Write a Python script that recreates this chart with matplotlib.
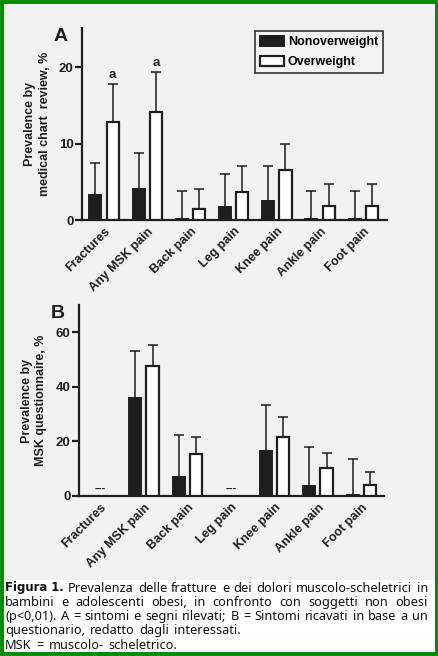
import numpy as np
import matplotlib.pyplot as plt
from matplotlib.patches import Rectangle

axfont = 'Liberation Sans'
plt.rcParams['font.family'] = [axfont, 'DejaVu Sans']

categories = ['Fractures', 'Any MSK pain', 'Back pain', 'Leg pain',
              'Knee pain', 'Ankle pain', 'Foot pain']

# panel A: medical chart review
a_non = [3.3, 4.0, 0.1, 1.7, 2.5, 0.1, 0.1]
a_non_err = [4.2, 4.8, 3.7, 4.3, 4.6, 3.7, 3.7]
a_over = [12.8, 14.1, 1.4, 3.6, 6.6, 1.8, 1.8]
a_over_err = [5.0, 5.2, 2.6, 3.4, 3.3, 2.9, 2.9]
a_sig = ['a', 'a', '', '', '', '', '']

# panel B: MSK questionnaire (nan = not asked)
b_non = [np.nan, 35.8, 6.8, np.nan, 16.6, 3.7, 0.2]
b_non_err = [np.nan, 17.4, 15.4, np.nan, 16.7, 14.4, 13.5]
b_over = [np.nan, 47.7, 15.3, np.nan, 21.7, 10.1, 4.1]
b_over_err = [np.nan, 7.6, 6.4, np.nan, 7.1, 5.8, 4.6]

W, H = 439, 656
fig = plt.figure(figsize=(W / 100, H / 100), dpi=100)
fig.patch.set_facecolor('#f2f2f2')

ink = '#1e1e1e'
x = np.arange(len(categories))
bw = 0.28
off = 0.2


def panel(rect, non, non_err, over, over_err, ylim, yticks, ylabel, letter):
    ax = fig.add_axes(rect)
    ax.set_facecolor('none')
    non = np.array(non, float)
    over = np.array(over, float)
    ok = ~np.isnan(non)
    ax.bar(x[ok] - off, non[ok], bw, color=ink, edgecolor=ink, lw=1.4, zorder=3)
    ax.bar(x[ok] + off, over[ok], bw, color='white', edgecolor=ink, lw=1.6, zorder=3)
    ax.errorbar(x[ok] - off, non[ok],
                yerr=[np.zeros(ok.sum()), np.array(non_err, float)[ok]],
                fmt='none', ecolor=ink, elinewidth=1.1, capsize=3.5, capthick=1.1, zorder=2)
    ax.errorbar(x[ok] + off, over[ok],
                yerr=[np.zeros(ok.sum()), np.array(over_err, float)[ok]],
                fmt='none', ecolor=ink, elinewidth=1.1, capsize=3.5, capthick=1.1, zorder=2)
    for sp in ['top', 'right']:
        ax.spines[sp].set_visible(False)
    for sp in ['left', 'bottom']:
        ax.spines[sp].set_linewidth(1.6)
        ax.spines[sp].set_color(ink)
    ax.set_ylim(*ylim)
    ax.set_yticks(yticks)
    ax.set_yticklabels([str(v) for v in yticks], fontfamily=axfont,
                       fontweight='bold', fontsize=9.5, color=ink)
    ax.set_xticks(x)
    ax.set_xticklabels(categories, rotation=45, ha='right', va='top',
                       rotation_mode='anchor', fontsize=9, fontweight='bold',
                       fontfamily=axfont, color=ink)
    ax.tick_params(axis='x', length=0, pad=4)
    ax.tick_params(axis='y', direction='out', length=5, width=1.6, color=ink, pad=1)
    ax.set_ylabel(ylabel, fontsize=9, fontweight='bold', fontfamily=axfont,
                  color=ink, labelpad=6, linespacing=1.25)
    ax.text(-0.07, 1.0, letter, transform=ax.transAxes, fontsize=14,
            fontweight='bold', fontfamily=axfont, color=ink, ha='center', va='top')
    return ax, ok


axA, okA = panel([82 / W, 1 - 220 / H, 305 / W, 192 / H],
                 a_non, a_non_err, a_over, a_over_err, (0, 25.1), [0, 10, 20],
                 'Prevalence by\nmedical chart  review, %', 'A')
axA.set_xlim(-0.51, 6.55)
for i, s in enumerate(a_sig):
    if s:
        axA.text(x[i] + off, a_over[i] + a_over_err[i] + 0.4, s, ha='center',
                 va='bottom', fontsize=9.5, fontweight='bold', fontfamily=axfont,
                 color=ink)

leg = axA.legend(handles=[Rectangle((0, 0), 1, 1, fc=ink, ec=ink, lw=1.4),
                          Rectangle((0, 0), 1, 1, fc='white', ec=ink, lw=1.6)],
                 labels=['Nonoverweight', 'Overweight'],
                 loc='upper right', bbox_to_anchor=(0.995, 1.0), frameon=True,
                 fancybox=False, edgecolor='#333333', framealpha=1,
                 handlelength=1.9, handleheight=0.9, handletextpad=0.3,
                 borderpad=0.4, labelspacing=0.6, borderaxespad=0.2,
                 prop={'size': 9, 'weight': 'bold', 'family': axfont})
leg.get_frame().set_facecolor('#f4f4f4')
leg.get_frame().set_linewidth(1.2)

axB, okB = panel([79 / W, 1 - 496 / H, 305 / W, 191 / H],
                 b_non, b_non_err, b_over, b_over_err, (0, 70), [0, 20, 40, 60],
                 'Prevalence by\nMSK questionnaire, %', 'B')
axB.set_xlim(-0.49, 6.52)
for i in np.where(~okB)[0]:
    axB.text(x[i], 2.6, '---', ha='center', va='center', fontsize=8,
             fontweight='bold', fontfamily=axfont, color=ink)

# caption box and green frame
fig.patches.append(Rectangle((3 / W, 3 / H), (W - 6) / W, (656 - 580) / H - 3 / H,
                             transform=fig.transFigure, fc='white', ec='none', zorder=0))
fig.patches.append(Rectangle((1.8 / W, 1.8 / H), (W - 3.6) / W, (H - 3.6) / H,
                             transform=fig.transFigure, fc='none', ec='#008a00',
                             lw=2.8, zorder=10))

cap_lines = [
    [('Figura\u00a01.', 'bold'), ('Prevalenza delle fratture e dei dolori muscolo-scheletrici in', 'normal')],
    [('bambini e adolescenti obesi, in confronto con soggetti non obesi', 'normal')],
    [('(p<0,01). A = sintomi e segni rilevati; B = Sintomi ricavati in base a un', 'normal')],
    [('questionario, redatto dagli interessati.', 'normal')],
    [('MSK = muscolo- scheletrico.', 'normal')],
]
justify = [True, True, True, False, False]
cap_fs = 9.2
x0, x1 = 5, 428
y_top = 588
lh = 14.3
sw = 0.38 * cap_fs * 100 / 72
fig.canvas.draw()
r = fig.canvas.get_renderer()
for li, line in enumerate(cap_lines):
    words = []
    for chunk, wt in line:
        for w in chunk.split(' '):
            words.append((w.replace('\u00a0', ' '), wt))
    ypx = y_top + li * lh
    texts = []
    widths = []
    for w, wt in words:
        fam = 'DejaVu Sans' if wt == 'bold' else 'Noto Sans'
        fs = cap_fs - 0.8 if wt == 'bold' else cap_fs
        t = fig.text(0, 1 - ypx / H, w, fontsize=fs, fontweight=wt,
                     family=fam, va='center', ha='left', color='#111111')
        texts.append(t)
        widths.append(t.get_window_extent(r).width)
    if justify[li] and len(words) > 1:
        gap = (x1 - x0 - sum(widths)) / (len(words) - 1)
    else:
        gap = sw
    cx = x0
    for t, wd in zip(texts, widths):
        t.set_x(cx / W)
        cx += wd + gap

fig.savefig('out.png', dpi=100, facecolor=fig.get_facecolor())
